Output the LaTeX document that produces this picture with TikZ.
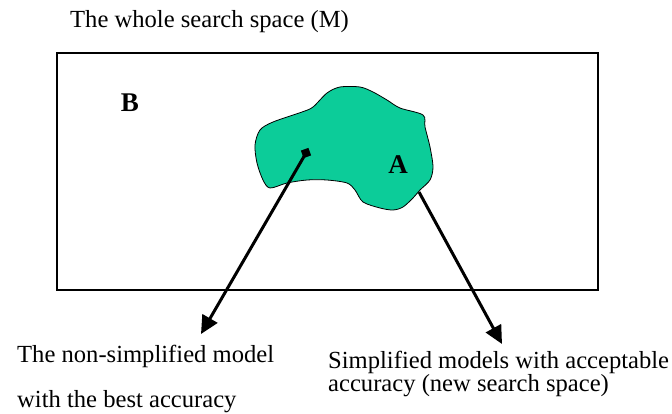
\documentclass[tikz,border=0pt]{standalone}
\usepackage{fontspec}
\setmainfont{Liberation Serif}
\usetikzlibrary{arrows.meta}
\definecolor{blobgreen}{RGB}{12,204,153}
\begin{document}
\begin{tikzpicture}[x=1pt,y=-1pt,
  lbl/.style={font=\fontsize{24.6}{28}\selectfont, inner sep=0pt, anchor=base west},
  big/.style={font=\fontsize{27}{30}\selectfont\bfseries, inner sep=0pt},
  arr/.style={line width=3pt, -{Triangle[length=18pt,width=17pt]}}]
\useasboundingbox (0,0) rectangle (672,414);
\node[lbl] (title) at (70,28) {The whole search space (M)};
\draw[line width=1.8pt] (57,53) rectangle (598,290);
\node[big] (B) at (130,103) {B};
\draw[fill=blobgreen, line width=0.8pt] plot[smooth cycle, tension=0.5] coordinates {
 (260,130) (273,122) (302,112) (313,107) (327,93) (340,87) (360,87) (373,92)
 (387,100) (400,108) (423,115) (425,127) (430,147) (433,167) (430,180) (420,190)
 (413,198) (403,207) (393,210) (380,208) (363,202) (355,190) (347,183) (327,180)
 (307,180) (287,183) (270,188) (263,180) (257,163) (255,145)};
\node[big] (A) at (398,165) {A};
\node[fill=black, minimum size=8pt, inner sep=0pt, rotate=20] (dot) at (306,153) {};
\coordinate (a2s) at (419,192);
\coordinate (t1) at (201,334);
\coordinate (t2) at (502,344);
\draw[arr] (dot.center) -- (t1);
\draw[arr] (a2s) -- (t2);
\node[lbl] (l1) at (17,362) {The non-simplified model};
\node[lbl] (l2) at (17,407) {with the best accuracy};
\node[lbl] (r1) at (328,368) {Simplified models with acceptable};
\node[lbl] (r2) at (328,391) {accuracy (new search space)};
\end{tikzpicture}
\end{document}
